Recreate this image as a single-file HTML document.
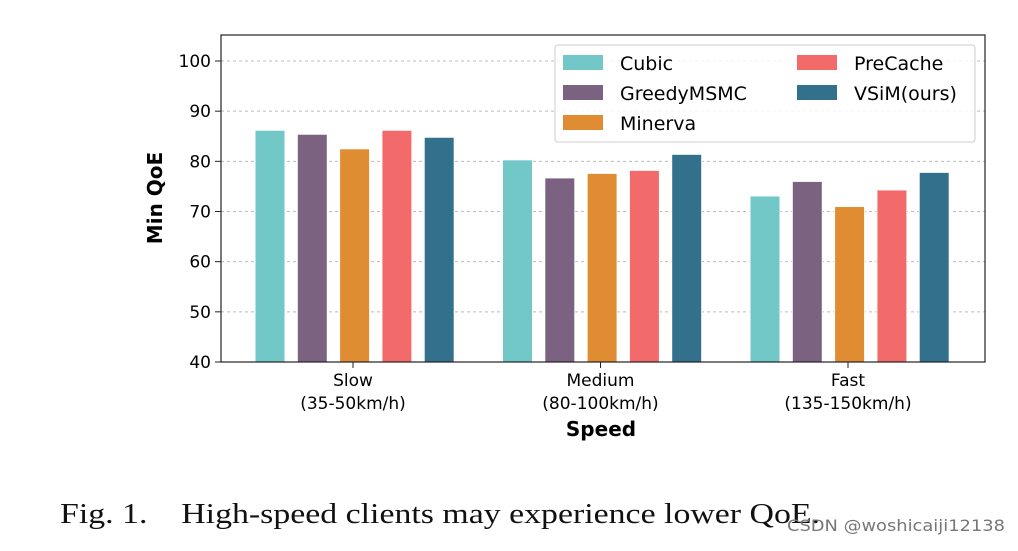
<!DOCTYPE html>
<html><head><meta charset="utf-8"><style>
body{margin:0;background:#fff;}
svg text{font-family:"DejaVu Sans","Liberation Sans",sans-serif;}
</style></head><body>
<svg width="1018" height="546" xmlns="http://www.w3.org/2000/svg">
<rect width="1018" height="546" fill="#fff"/>
<g id="grid"></g>
<g id="bars"></g>
<rect x="221" y="35" width="764" height="327" fill="none" stroke="#222" stroke-width="1.2"/>
<g id="yticks"></g>
<g id="xticks"></g>
<text x="162" y="198" transform="rotate(-90 162 198)" text-anchor="middle" font-size="20" font-weight="bold">Min QoE</text>
<text x="601" y="436" text-anchor="middle" font-size="20" font-weight="bold">Speed</text>
<g id="legend">
<rect x="555" y="45" width="420" height="97" fill="#fff" fill-opacity="0.85" stroke="#ccc" rx="3"/>
</g>
<text x="60" y="523" font-size="28" fill="#111" textLength="760" lengthAdjust="spacingAndGlyphs" style="font-family:'Liberation Serif',serif" xml:space="preserve">Fig. 1.    High-speed clients may experience lower QoE.</text>
<text x="787" y="531" font-size="16" fill="#777" textLength="218" lengthAdjust="spacingAndGlyphs">CSDN @woshicaiji12138</text>
</svg>
<script>
const categories=["Slow","Medium","Fast"];
const subLabels=["(35-50km/h)","(80-100km/h)","(135-150km/h)"];
const seriesNames=["Cubic","GreedyMSMC","Minerva","PreCache","VSiM(ours)"];
const cubic=[86.2,80.3,73.1];
const greedy=[85.4,76.7,76.0];
const minerva=[82.5,77.6,71.0];
const precache=[86.2,78.2,74.3];
const vsim=[84.8,81.4,77.8];
const yTicks=[40,50,60,70,80,90,100];
const colors=["#72c7c7","#7a6280","#e08c32","#f26a6a","#33708c"];
const series=[cubic,greedy,minerva,precache,vsim];
const NS="http://www.w3.org/2000/svg";
function y(v){return 362-(v-40)*(301/60);}
function gx(i){return 353+i*247.5;}
function mk(t,a,p){const e=document.createElementNS(NS,t);for(const k in a)e.setAttribute(k,a[k]);p.appendChild(e);return e;}
const grid=document.getElementById('grid'),yt=document.getElementById('yticks'),xt=document.getElementById('xticks'),bars=document.getElementById('bars'),lg=document.getElementById('legend');
yTicks.forEach(t=>{
 const l=mk('line',{x1:221,x2:985,y1:y(t),y2:y(t),stroke:'#bbb','stroke-dasharray':'3,3'},grid);
 
 
 const tk=mk('line',{x1:215,x2:221,y1:y(t),y2:y(t),stroke:'#222'},yt);
 
 
 const tx=mk('text',{x:211,y:y(t)+6,'text-anchor':'end','font-size':17},yt);tx.textContent=t;
 
 
});
categories.forEach((c,i)=>{
 const cx=gx(i);
 const tk=mk('line',{x1:cx,x2:cx,y1:362,y2:368,stroke:'#222'},xt);
 
 
 const t1=mk('text',{x:cx,y:386,'text-anchor':'middle','font-size':17},xt);t1.textContent=c;
 
 
 const t2=mk('text',{x:cx,y:409,'text-anchor':'middle','font-size':17},xt);t2.textContent=subLabels[i];
 
 
 series.forEach((s,j)=>{
  const bx=cx-98+j*42.3;
  const r=mk('rect',{x:bx,y:y(s[i]),width:30,height:362-y(s[i]),fill:colors[j],stroke:'#fff','stroke-width':1},bars);
  
  
 });
});
seriesNames.forEach((n,j)=>{
 const col=j<3?0:1,row=j<3?j:j-3;
 const px=col?797:563,py=55+row*30;
 const p=mk('rect',{x:px,y:py,width:40,height:15,fill:colors[j]},lg);
 
 
 const t=mk('text',{x:px+57,y:py+15,'font-size':19},lg);t.textContent=n;
 
 
});
</script>
</body></html>
